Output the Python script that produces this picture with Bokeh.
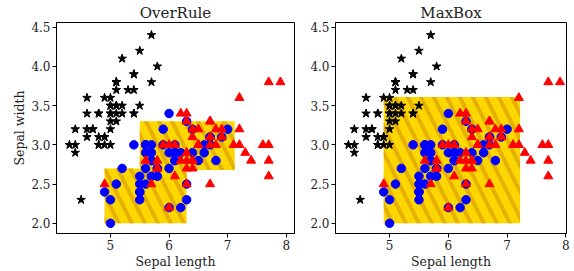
from bokeh.plotting import figure
from bokeh.layouts import row
from bokeh.models import FixedTicker, Range1d
from bokeh.embed import file_html
from bokeh.resources import INLINE

# Iris data: sepal length / sepal width
setosa_x = [5.1,4.9,4.7,4.6,5.0,5.4,4.6,5.0,4.4,4.9,5.4,4.8,4.8,4.3,5.8,5.7,5.4,5.1,5.7,5.1,5.4,5.1,4.6,5.1,4.8,5.0,5.0,5.2,5.2,4.7,4.8,5.4,5.2,5.5,4.9,5.0,5.5,4.9,4.4,5.1,5.0,4.5,4.4,5.0,5.1,4.8,5.1,4.6,5.3,5.0]
setosa_y = [3.5,3.0,3.2,3.1,3.6,3.9,3.4,3.4,2.9,3.1,3.7,3.4,3.0,3.0,4.0,4.4,3.9,3.5,3.8,3.8,3.4,3.7,3.6,3.3,3.4,3.0,3.4,3.5,3.4,3.2,3.1,3.4,4.1,4.2,3.1,3.2,3.5,3.6,3.0,3.4,3.5,2.3,3.2,3.5,3.8,3.0,3.8,3.2,3.7,3.3]
versi_x = [7.0,6.4,6.9,5.5,6.5,5.7,6.3,4.9,6.6,5.2,5.0,5.9,6.0,6.1,5.6,6.7,5.6,5.8,6.2,5.6,5.9,6.1,6.3,6.1,6.4,6.6,6.8,6.7,6.0,5.7,5.5,5.5,5.8,6.0,5.4,6.0,6.7,6.3,5.6,5.5,5.5,6.1,5.8,5.0,5.6,5.7,5.7,6.2,5.1,5.7]
versi_y = [3.2,3.2,3.1,2.3,2.8,2.8,3.3,2.4,2.9,2.7,2.0,3.0,2.2,2.9,2.9,3.1,3.0,2.7,2.2,2.5,3.2,2.8,2.5,2.8,2.9,3.0,2.8,3.0,2.9,2.6,2.4,2.4,2.7,2.7,3.0,3.4,3.1,2.3,3.0,2.5,2.6,3.0,2.6,2.3,2.7,3.0,2.9,2.9,2.5,2.8]
virg_x = [6.3,5.8,7.1,6.3,6.5,7.6,4.9,7.3,6.7,7.2,6.5,6.4,6.8,5.7,5.8,6.4,6.5,7.7,7.7,6.0,6.9,5.6,7.7,6.3,6.7,7.2,6.2,6.1,6.4,7.2,7.4,7.9,6.4,6.3,6.1,7.7,6.3,6.4,6.0,6.9,6.7,6.9,5.8,6.8,6.7,6.7,6.3,6.5,6.2,5.9]
virg_y = [3.3,2.7,3.0,2.9,3.0,3.0,2.5,2.9,2.5,3.6,3.2,2.7,3.0,2.5,2.8,3.2,3.0,3.8,2.6,2.2,3.2,2.8,2.8,2.7,3.3,3.2,2.8,3.0,2.8,3.0,2.8,3.8,2.8,2.8,2.6,3.0,3.4,3.1,3.0,3.1,3.1,3.1,2.7,3.2,3.3,3.0,2.5,3.0,3.4,3.0]

# Boxes
overrule_left = [4.9, 5.5]
overrule_right = [6.3, 7.12]
overrule_bottom = [2.0, 2.68]
overrule_top = [2.7, 3.3]

maxbox_left = [4.9]
maxbox_right = [7.22]
maxbox_bottom = [2.0]
maxbox_top = [3.61]

titles = ["OverRule", "MaxBox"]
x_ticks = [5, 6, 7, 8]
y_ticks = [2.0, 2.5, 3.0, 3.5, 4.0, 4.5]

FONT = "DejaVu Serif"
H = 271


def make(title, lefts, rights, bottoms, tops, width, mbl, mbr, xend, ylabel):
    p = figure(width=width, height=H, output_backend="svg", toolbar_location=None,
               x_range=Range1d(4.08, xend), y_range=Range1d(1.87, 4.56),
               min_border_left=mbl, min_border_right=mbr, min_border_top=0,
               min_border_bottom=0)
    p.title.text = title
    p.title.align = "center"
    p.title.text_font = FONT
    p.title.text_font_size = "15px"
    p.title.text_font_style = "normal"
    p.title.text_color = "#222222"
    p.title.standoff = 2
    p.title.offset = 0
    p.grid.visible = False
    p.outline_line_color = "black"
    p.outline_line_width = 1
    p.outline_line_alpha = 1
    for ax in (p.xaxis, p.yaxis):
        ax.major_label_text_font = FONT
        ax.major_label_text_font_size = "12px"
        ax.major_label_text_color = "#222222"
        ax.axis_label_text_font = FONT
        ax.axis_label_text_font_size = "12.5px"
        ax.axis_label_text_font_style = "normal"
        ax.axis_label_text_color = "#222222"
        ax.minor_tick_line_color = None
        ax.major_tick_out = 4
        ax.major_tick_in = 0
        ax.axis_line_color = "black"
        ax.major_tick_line_color = "black"
        ax.major_label_standoff = 2
        ax.axis_label_standoff = 1
    p.xaxis.ticker = FixedTicker(ticks=x_ticks)
    p.yaxis.ticker = FixedTicker(ticks=y_ticks)
    p.yaxis.major_label_overrides = {t: f"{t:.1f}" for t in y_ticks}
    p.xaxis.axis_label = "Sepal length"
    if ylabel:
        p.yaxis.axis_label = "Sepal width"
    p.quad(left=lefts, right=rights, bottom=bottoms, top=tops,
           fill_color="#FFD700", line_color=None,
           hatch_pattern="\\", hatch_color="#E6B000", hatch_scale=26, hatch_weight=4)
    p.scatter(setosa_x, setosa_y, marker="star", size=9, fill_color="black", line_color="black")
    p.scatter(versi_x, versi_y, marker="circle", size=8.5, fill_color="#0000FF", line_color="#0000FF")
    p.scatter(virg_x, virg_y, marker="triangle", size=9, fill_color="#FF0000", line_color="#FF0000")
    return p


p1 = make(titles[0], overrule_left, overrule_right, overrule_bottom, overrule_top,
          300, 56, 6, 8.14, True)
p2 = make(titles[1], maxbox_left, maxbox_right, maxbox_bottom, maxbox_top,
          274, 35, 8, 8.01, False)

layout = row(p1, p2)
open("out.html", "w").write(file_html(layout, INLINE))
